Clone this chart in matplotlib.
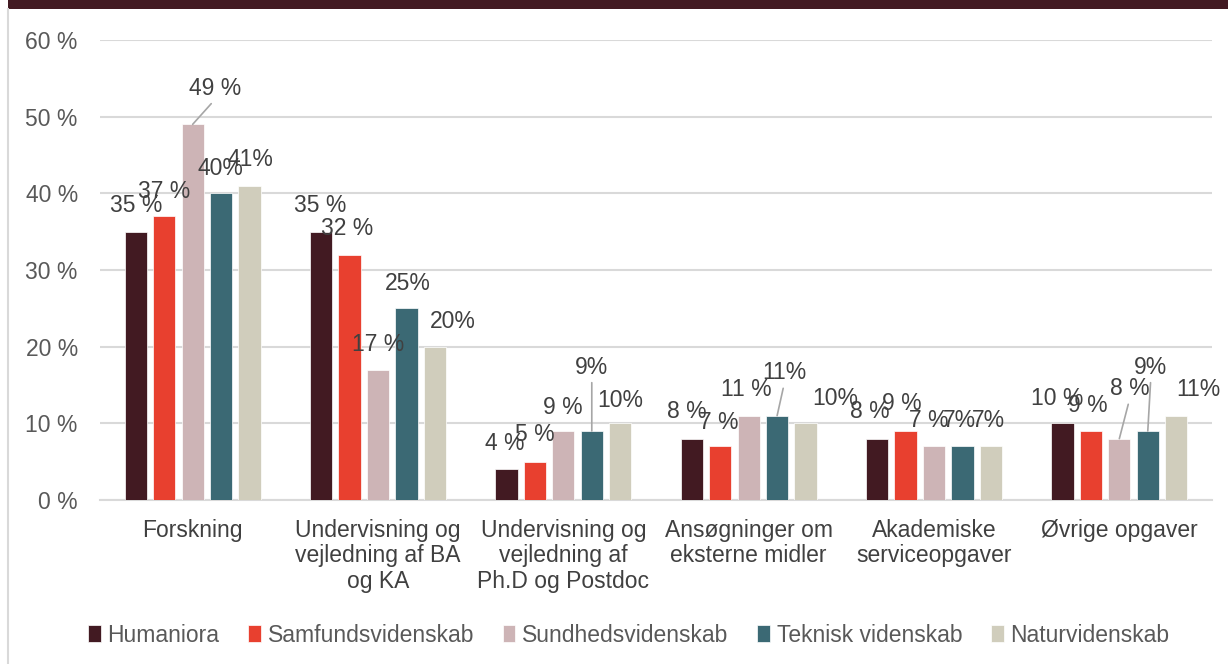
import matplotlib
matplotlib.use("Agg")
import matplotlib.pyplot as plt
import numpy as np
from matplotlib.patches import Rectangle
from matplotlib.lines import Line2D

plt.rcParams["font.family"] = ["Liberation Sans", "DejaVu Sans"]
plt.rcParams["font.size"] = 16.5

categories = ["Forskning",
              "Undervisning og\nvejledning af BA\nog KA",
              "Undervisning og\nvejledning af\nPh.D og Postdoc",
              "Ansøgninger om\neksterne midler",
              "Akademiske\nserviceopgaver",
              "Øvrige opgaver"]
series = ["Humaniora", "Samfundsvidenskab", "Sundhedsvidenskab",
          "Teknisk videnskab", "Naturvidenskab"]

humaniora = [35, 35, 4, 8, 8, 10]
samfund   = [37, 32, 5, 7, 9, 9]
sundhed   = [49, 17, 9, 11, 7, 8]
teknisk   = [40, 25, 9, 11, 7, 9]
natur     = [41, 20, 10, 10, 7, 11]
values = [humaniora, samfund, sundhed, teknisk, natur]

# the source labels mix "35 %" and "40%" styles
label_fmt = ["{} %", "{} %", "{} %", "{}%", "{}%"]

colors = ["#421a22", "#e8402f", "#cdb4b6", "#3b6974", "#d0cdbc"]

# label offsets from bar top (pixels, x right / y up), Excel-style placement
offsets = [
    [(0, 26), (-1, 26), (-2, 26), (-5, 27), (-7, 27), (-5, 25)],
    [(0, 25), (-2, 26), (0, 27), (-1, 24), (-4, 28), (-3, 26)],
    [(22, 36), (0, 25), (-1, 24), (-2, 26), (-5, 26), (10, 50)],
    [(-1, 25), (1, 25), (0, 64), (7, 43), (-3, 26), (3, 64)],
    [(1, 26), (18, 25), (0, 23), (30, 25), (-2, 26), (22, 26)],
]
leaders = {(2, 0), (3, 2), (3, 3), (2, 5), (3, 5)}

fig = plt.figure(figsize=(12.28, 6.64), dpi=100)
ax = fig.add_axes([100 / 1228, 1 - 500 / 664, 1112 / 1228, 460 / 664])

x = np.arange(len(categories))
step = 0.1535
width = 0.12
for j, (name, vals) in enumerate(zip(series, values)):
    xs = x + (j - 2) * step
    ax.bar(xs, vals, width, color=colors[j], label=name,
           edgecolor="white", linewidth=0.5, zorder=3)
    for i, v in enumerate(vals):
        dx, dy = offsets[j][i]
        kw = {}
        if (j, i) in leaders:
            kw["arrowprops"] = dict(arrowstyle="-", color="#a6a6a6", lw=1.2,
                                    relpos=(0.5, 0), shrinkA=1, shrinkB=0)
        ax.annotate(label_fmt[j].format(v), xy=(xs[i], v),
                    xytext=(dx, dy), textcoords="offset pixels",
                    ha="center", va="center", color="#404040",
                    fontsize=16.5, zorder=5, **kw)

ax.set_xlim(-0.5, 5.5)
ax.set_ylim(0, 60)
ax.set_yticks(range(0, 61, 10))
ax.set_yticklabels([f"{t} %" for t in range(0, 61, 10)], color="#595959")
ax.set_xticks(x)
ax.set_xticklabels(categories, color="#404040", linespacing=1.14)
ax.tick_params(axis="y", length=0, pad=16)
ax.tick_params(axis="x", length=0, pad=13.5)
ax.yaxis.grid(True, color="#d9d9d9", lw=1.5)
ax.set_axisbelow(True)
for s in ["top", "right", "left"]:
    ax.spines[s].set_visible(False)
ax.spines["bottom"].set_color("#d9d9d9")
ax.spines["bottom"].set_linewidth(1.5)

leg = fig.legend(loc="center", bbox_to_anchor=(0.512, 1 - 635 / 664), ncol=5,
                 frameon=False, handlelength=0.55, handleheight=0.75,
                 handletextpad=0.3, columnspacing=1.25, fontsize=16.5)
for t in leg.get_texts():
    t.set_color("#595959")

# dark header band and light frame line
fig.add_artist(Rectangle((8 / 1228, 1 - 9 / 664), 1, 9 / 664,
                         transform=fig.transFigure, color="#421a22", lw=0))
fig.add_artist(Line2D([8 / 1228, 8 / 1228], [0, 1 - 9 / 664],
                      transform=fig.transFigure, color="#d9d9d9", lw=1.5))

fig.savefig("out.png", dpi=100)
